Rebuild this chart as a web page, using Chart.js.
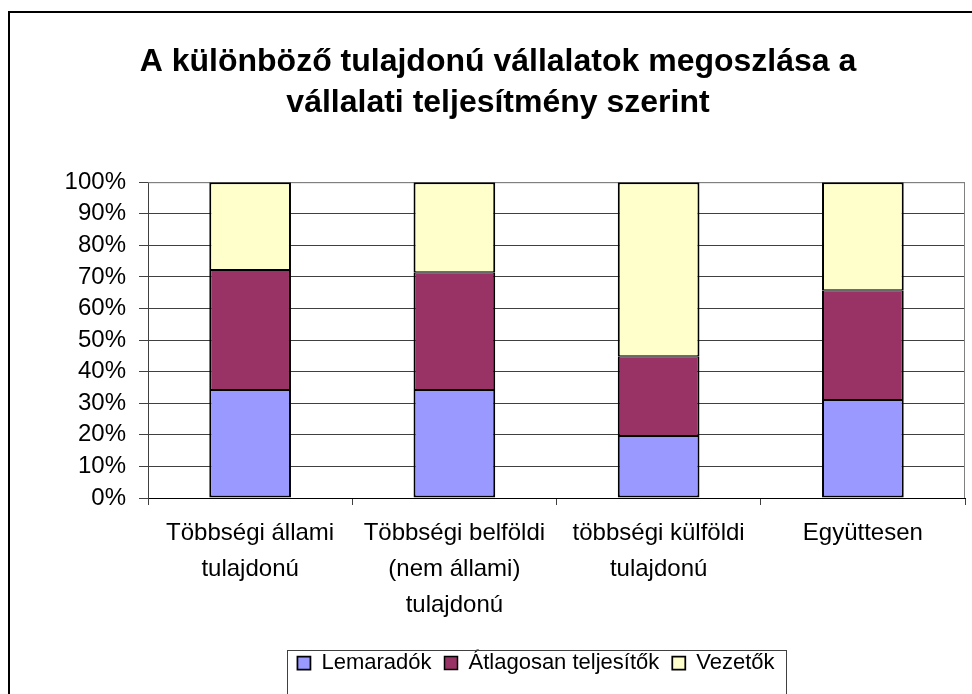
<!DOCTYPE html>
<html>
<head>
<meta charset="utf-8">
<script src="https://cdn.jsdelivr.net/npm/chart.js@4"></script>
<style>
  html, body { margin: 0; padding: 0; background: #fff; }
  #wrap { width: 972px; height: 694px; }
</style>
</head>
<body>
<div id="wrap"><canvas id="ownershipChart"></canvas></div>
<script>
// ---------- DATA ----------
let categories = [
  ["Többségi állami", "tulajdonú"],
  ["Többségi belföldi", "(nem állami)", "tulajdonú"],
  ["többségi külföldi", "tulajdonú"],
  "Együttesen"
];
let lemaradok = [34.2, 34.2, 19.6, 31.0];
let atlagosan = [38.0, 37.3, 25.3, 34.8];
let vezetok = [27.8, 28.5, 55.1, 34.2];
let yTicks = [0, 10, 20, 30, 40, 50, 60, 70, 80, 90, 100];

Chart.defaults.font.family = "'Liberation Sans', Arial, sans-serif";
Chart.defaults.color = "#000";

// frame around the whole chart + plot area edges + legend box
let extras = {
  id: "extras",
  afterLayout(chart) {
    // legend sits a bit right of centre in the original
    let lg = chart.legend;
    lg.left += 38;
    lg.right += 38;
  },
  beforeDraw(chart) {
    let ctx = chart.ctx;
    ctx.save();
    ctx.strokeStyle = "#000";
    ctx.lineWidth = 2;
    ctx.strokeRect(9, 12, 1200, 1200);
    ctx.restore();
  },
  beforeDatasetsDraw(chart) {
    let a = chart.chartArea;
    let ctx = chart.ctx;
    ctx.save();
    ctx.strokeStyle = "#808080";
    ctx.lineWidth = 1;
    ctx.beginPath();
    ctx.moveTo(a.left, a.top + 0.5);
    ctx.lineTo(a.right - 0.5, a.top + 0.5);
    ctx.lineTo(a.right - 0.5, a.bottom);
    ctx.stroke();
    ctx.restore();
  },
  afterDraw(chart) {
    let boxes = chart.legend.legendHitBoxes;
    if (!boxes || !boxes.length) return;
    let first = boxes[0];
    let last = boxes[boxes.length - 1];
    let ctx = chart.ctx;
    ctx.save();
    ctx.strokeStyle = "#404040";
    ctx.lineWidth = 1;
    ctx.strokeRect(Math.round(first.left - 10) + 0.5, Math.round(first.top - 2) + 0.5,
      Math.round(last.left + last.width - first.left + 22), 100);
    ctx.restore();
  }
};

let common = {
  borderColor: "#000",
  borderSkipped: false,
  categoryPercentage: 1,
  barPercentage: 0.4
};

new Chart(document.getElementById("ownershipChart"), {
  type: "bar",
  data: {
    labels: categories,
    datasets: [
      { ...common, label: "Lemaradók", data: lemaradok, backgroundColor: "#9999FF",
        borderWidth: { left: 2, right: 2, top: 1, bottom: 2 } },
      { ...common, label: "Átlagosan teljesítők", data: atlagosan, backgroundColor: "#993366",
        borderWidth: { left: 2, right: 2, top: 1, bottom: 1 } },
      { ...common, label: "Vezetők", data: vezetok, backgroundColor: "#FFFFCC",
        borderWidth: { left: 2, right: 2, top: 2, bottom: 1 } }
    ]
  },
  options: {
    responsive: true,
    maintainAspectRatio: false,
    animation: false,
    layout: { padding: { left: 31, right: 7, top: 20, bottom: 10 } },
    plugins: {
      title: {
        display: true,
        text: ["A különböző tulajdonú vállalatok megoszlása a", "vállalati teljesítmény szerint"],
        color: "#000",
        font: { size: 32, weight: "bold", lineHeight: 1.3 },
        padding: { top: 21, bottom: 58 }
      },
      legend: {
        position: "bottom",
        labels: {
          boxWidth: 13,
          boxHeight: 13,
          padding: 13,
          color: "#000",
          font: { size: 22 }
        }
      },
      tooltip: { enabled: false }
    },
    scales: {
      x: {
        stacked: true,
        grid: { drawOnChartArea: false, tickLength: 7, color: "#404040", offset: true },
        border: { color: "#000", width: 1 },
        ticks: {
          autoSkip: false,
          maxRotation: 0,
          padding: 10,
          font: { size: 24, lineHeight: 1.5 }
        },
        afterFit(axis) { axis.height = 141; }
      },
      y: {
        stacked: true,
        min: 0,
        max: 100,
        grid: {
          color: ctx => ctx.tick && ctx.tick.value === 100 ? "#808080" : "#404040",
          tickLength: 9,
          tickColor: "#404040"
        },
        border: { color: "#404040", width: 1 },
        afterBuildTicks(axis) { axis.ticks = yTicks.map(v => ({ value: v })); },
        ticks: {
          autoSkip: false,
          padding: 13,
          font: { size: 24 },
          callback: v => v + "%"
        },
        afterFit(axis) { axis.width = 117; }
      }
    }
  },
  plugins: [extras]
});
</script>
</body>
</html>
